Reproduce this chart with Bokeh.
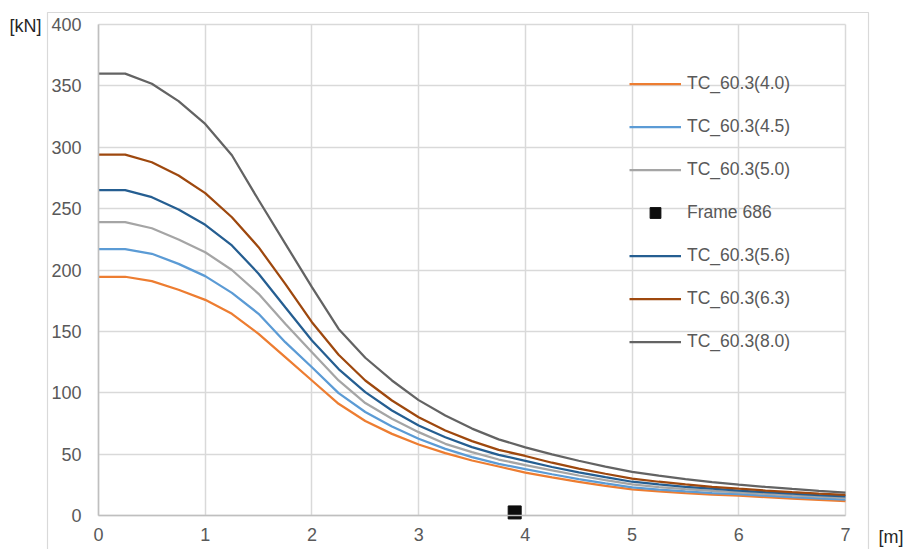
from bokeh.plotting import figure
from bokeh.models import Legend, LegendItem, Label, FixedTicker, Range1d
from bokeh.embed import file_html
from bokeh.resources import INLINE

# ---- data ----
x_m = [0, 0.25, 0.5, 0.75, 1, 1.25, 1.5, 1.75, 2, 2.25, 2.5, 2.75, 3, 3.25, 3.5, 3.75,
       4, 4.25, 4.5, 4.75, 5, 5.25, 5.5, 5.75, 6, 6.25, 6.5, 6.75, 7]

tc_40 = [194.5, 194.5, 190.9, 183.9, 175.7, 164.3, 148.0, 129.0, 110.0, 91.0, 77.0, 66.5, 57.8,
         50.8, 44.8, 39.9, 35.0, 31.0, 27.4, 24.1, 21.3, 19.6, 18.3, 17.1, 16.2, 15.0, 13.8, 12.7, 11.8]
tc_45 = [217.0, 217.0, 213.2, 205.0, 195.0, 181.4, 164.3, 141.2, 120.8, 99.7, 84.3, 72.5, 62.5,
         54.3, 47.5, 42.1, 37.8, 33.6, 29.7, 26.2, 22.9, 21.1, 19.6, 18.3, 17.4, 16.2, 15.0, 14.0, 13.0]
tc_50 = [239.0, 239.0, 234.0, 224.9, 214.5, 200.0, 180.6, 156.2, 133.0, 110.0, 91.6, 78.8, 67.9,
         58.4, 51.6, 45.6, 41.0, 36.8, 32.6, 28.8, 25.3, 23.2, 21.5, 20.1, 18.9, 17.6, 16.4, 15.3, 14.3]
tc_56 = [265.0, 265.0, 259.3, 249.3, 236.8, 220.0, 197.0, 169.7, 142.6, 119.3, 100.5, 85.5, 73.3,
         63.8, 55.7, 49.4, 44.5, 39.5, 35.2, 31.3, 27.5, 25.3, 23.4, 21.8, 20.3, 19.0, 17.8, 16.6, 15.5]
tc_63 = [294.0, 294.0, 287.8, 277.0, 262.6, 243.0, 218.6, 188.7, 157.5, 131.0, 110.0, 93.7, 80.0,
         69.2, 60.6, 53.5, 48.5, 43.0, 38.2, 34.0, 30.0, 27.5, 25.3, 23.4, 21.8, 20.3, 19.0, 17.8, 16.8]
tc_80 = [360.0, 360.0, 351.7, 337.6, 319.0, 293.5, 257.0, 221.5, 186.0, 152.0, 128.5, 110.0, 94.0,
         81.5, 70.8, 62.0, 55.5, 49.8, 44.6, 39.8, 35.5, 32.4, 29.7, 27.2, 25.1, 23.3, 21.6, 20.0, 18.6]

frame_x = [3.9]
frame_y = [2.5]

series_names = ["TC_60.3(4.0)", "TC_60.3(4.5)", "TC_60.3(5.0)", "TC_60.3(5.6)", "TC_60.3(6.3)", "TC_60.3(8.0)"]
series_values = [tc_40, tc_45, tc_50, tc_56, tc_63, tc_80]
series_colors = ["#ED7D31", "#5B9BD5", "#A5A5A5", "#255E91", "#9E480E", "#636363"]

y_ticks = [0, 50, 100, 150, 200, 250, 300, 350, 400]
x_ticks = [0, 1, 2, 3, 4, 5, 6, 7]

FONT = "Liberation Sans"
TXT = "#595959"

W, H = 906, 549
# plot area in pixels: x 0..7 -> 98..845, y 0..400 -> 515..24
PX_X0, PX_X1, PX_Y0, PX_Y1 = 98, 845, 515, 24
sx = (PX_X1 - PX_X0) / 7.0
sy = (PX_Y0 - PX_Y1) / 400.0
xr = Range1d(-PX_X0 / sx, (W - PX_X0) / sx)
yr = Range1d(-(H - PX_Y0) / sy, PX_Y0 / sy)

p = figure(width=W, height=H, output_backend="svg", toolbar_location=None,
           x_range=xr, y_range=yr,
           min_border_left=0, min_border_right=0, min_border_top=0, min_border_bottom=0)
p.outline_line_color = None
p.background_fill_color = "white"
p.border_fill_color = "white"

for ax in (p.xaxis[0], p.yaxis[0]):
    ax.fixed_location = 0
    ax.axis_line_color = "#bfbfbf"
    ax.axis_line_width = 1.5
    ax.major_tick_line_color = None
    ax.minor_tick_line_color = None
    ax.major_tick_out = 0
    ax.major_tick_in = 0
    ax.major_label_text_font = FONT
    ax.major_label_text_font_size = "18px"
    ax.major_label_text_color = TXT
p.xaxis.bounds = (0, 7)
p.yaxis.bounds = (0, 400)
p.xaxis.ticker = FixedTicker(ticks=x_ticks)
p.yaxis.ticker = FixedTicker(ticks=y_ticks)
p.xaxis.major_label_standoff = 12
p.yaxis.major_label_standoff = 17

p.xgrid.ticker = FixedTicker(ticks=x_ticks)
p.ygrid.ticker = FixedTicker(ticks=y_ticks)
p.xgrid.bounds = (0, 7)
p.ygrid.bounds = (0, 400)
p.xgrid.cross_bounds = (0, 400)
p.ygrid.cross_bounds = (0, 7)
for g in (p.xgrid[0], p.ygrid[0]):
    g.grid_line_color = "#d9d9d9"
    g.grid_line_width = 1.5

# outer chart-area border (pixel positions converted to data units)
bx0 = (47 - PX_X0) / sx
bx1 = (868 - PX_X0) / sx
by_top = (PX_Y0 - 12) / sy
by_bot = -(H + 20 - PX_Y0) / sy
p.line([bx0, bx0, bx1, bx1], [by_bot, by_top, by_top, by_bot],
       line_color="#d9d9d9", line_width=1.2)

renderers = {}
for name, vals, col in zip(series_names, series_values, series_colors):
    renderers[name] = p.line(x_m, vals, line_color=col, line_width=2.25)

frame_r = p.scatter(frame_x, frame_y, marker="square", size=13, fill_color="#0d0d0d",
                    line_color="#0d0d0d")

order = [("TC_60.3(4.0)", renderers["TC_60.3(4.0)"]),
         ("TC_60.3(4.5)", renderers["TC_60.3(4.5)"]),
         ("TC_60.3(5.0)", renderers["TC_60.3(5.0)"]),
         ("Frame 686", frame_r),
         ("TC_60.3(5.6)", renderers["TC_60.3(5.6)"]),
         ("TC_60.3(6.3)", renderers["TC_60.3(6.3)"]),
         ("TC_60.3(8.0)", renderers["TC_60.3(8.0)"])]
legend = Legend(items=[LegendItem(label=l, renderers=[r]) for l, r in order],
                location=(629, 194), orientation="vertical",
                glyph_width=52, glyph_height=27, label_height=27, spacing=16,
                label_standoff=6, padding=0, margin=0,
                label_text_font=FONT, label_text_font_size="17.5px", label_text_color=TXT,
                background_fill_alpha=0, border_line_color=None)
p.add_layout(legend)

p.add_layout(Label(x=(9 - PX_X0) / sx, y=(PX_Y0 - 25) / sy, text="[kN]",
                   text_font=FONT, text_font_size="18px",
                   text_color="#262626", text_baseline="middle", text_align="left"))
p.add_layout(Label(x=(878 - PX_X0) / sx, y=(PX_Y0 - 536) / sy, text="[m]",
                   text_font=FONT, text_font_size="18px",
                   text_color="#262626", text_baseline="middle", text_align="left"))

open("out.html", "w").write(file_html(p, INLINE))
